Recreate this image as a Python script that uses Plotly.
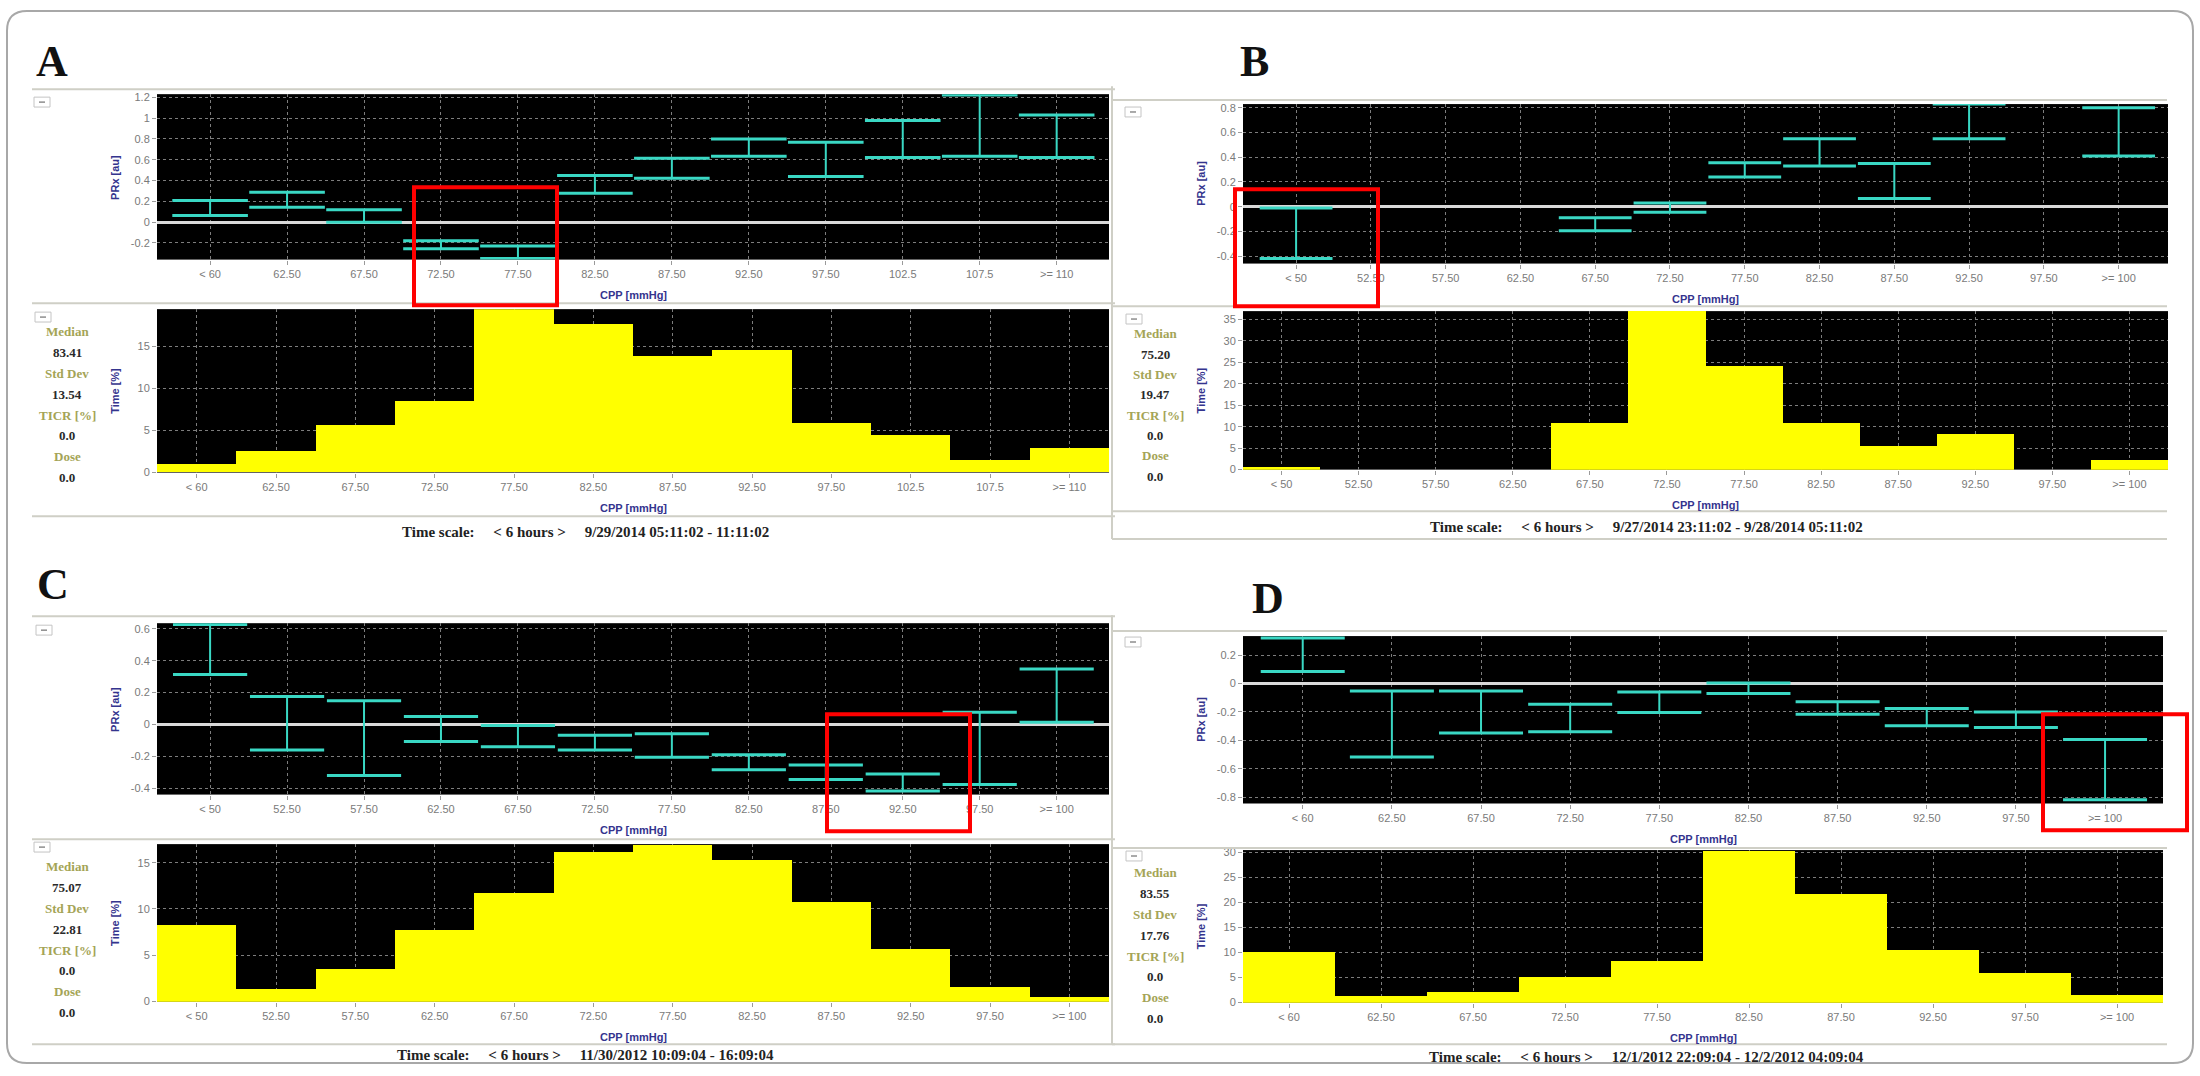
import plotly.graph_objects as go

W, H = 2200, 1076

# ------------------------------------------------------------------ data
A_cats = ["< 60", "62.50", "67.50", "72.50", "77.50", "82.50", "87.50", "92.50",
          "97.50", "102.5", "107.5", ">= 110"]
A_prx_hi = [0.208, 0.288, 0.12, -0.18, -0.23, 0.448, 0.614, 0.80, 0.768, 0.976, 1.222, 1.03]
A_prx_lo = [0.064, 0.144, 0.0, -0.256, -0.35, 0.278, 0.422, 0.634, 0.438, 0.621, 0.634, 0.621]
A_time = [1.0, 2.5, 5.6, 8.5, 19.6, 17.6, 13.8, 14.5, 5.9, 4.5, 1.5, 2.9]
A_prx_ticks = [-0.2, 0, 0.2, 0.4, 0.6, 0.8, 1.0, 1.2]
A_prx_ticktext = ["-0.2", "0", "0.2", "0.4", "0.6", "0.8", "1", "1.2"]
A_time_ticks = [0, 5, 10, 15]
A_stats = ["83.41", "13.54", "0.0", "0.0"]
A_period = "9/29/2014 05:11:02 - 11:11:02"

B_cats = ["< 50", "52.50", "57.50", "62.50", "67.50", "72.50", "77.50", "82.50",
          "87.50", "92.50", "97.50", ">= 100"]
B_prx_hi = [-0.01, None, None, None, -0.09, 0.03, 0.355, 0.55, 0.35, 0.83, None, 0.80]
B_prx_lo = [-0.42, None, None, None, -0.195, -0.045, 0.24, 0.33, 0.067, 0.55, None, 0.41]
B_time = [0.5, 0, 0, 0, 10.8, 36.8, 24.0, 10.8, 5.4, 8.3, 0, 2.2]
B_prx_ticks = [-0.4, -0.2, 0, 0.2, 0.4, 0.6, 0.8]
B_prx_ticktext = ["-0.4", "-0.2", "0", "0.2", "0.4", "0.6", "0.8"]
B_time_ticks = [0, 5, 10, 15, 20, 25, 30, 35]
B_stats = ["75.20", "19.47", "0.0", "0.0"]
B_period = "9/27/2014 23:11:02 - 9/28/2014 05:11:02"

C_cats = ["< 50", "52.50", "57.50", "62.50", "67.50", "72.50", "77.50", "82.50",
          "87.50", "92.50", "97.50", ">= 100"]
C_prx_hi = [0.627, 0.175, 0.148, 0.05, -0.006, -0.068, -0.058, -0.19, -0.254, -0.311, 0.076, 0.348]
C_prx_lo = [0.313, -0.16, -0.32, -0.107, -0.14, -0.16, -0.206, -0.285, -0.346, -0.418, -0.377, 0.014]
C_time = [8.25, 1.36, 3.5, 7.7, 11.7, 16.1, 16.9, 15.25, 10.7, 5.7, 1.6, 0.5]
C_prx_ticks = [-0.4, -0.2, 0, 0.2, 0.4, 0.6]
C_prx_ticktext = ["-0.4", "-0.2", "0", "0.2", "0.4", "0.6"]
C_time_ticks = [0, 5, 10, 15]
C_stats = ["75.07", "22.81", "0.0", "0.0"]
C_period = "11/30/2012 10:09:04 - 16:09:04"

D_cats = ["< 60", "62.50", "67.50", "72.50", "77.50", "82.50", "87.50", "92.50",
          "97.50", ">= 100"]
D_prx_hi = [0.322, -0.053, -0.053, -0.146, -0.06, 0.005, -0.128, -0.176, -0.2, -0.394]
D_prx_lo = [0.086, -0.517, -0.348, -0.339, -0.204, -0.07, -0.216, -0.297, -0.309, -0.819]
D_time = [10.1, 1.3, 2.2, 5.1, 8.4, 30.3, 21.8, 10.5, 5.9, 1.6]
D_prx_ticks = [-0.8, -0.6, -0.4, -0.2, 0, 0.2]
D_prx_ticktext = ["-0.8", "-0.6", "-0.4", "-0.2", "0", "0.2"]
D_time_ticks = [0, 5, 10, 15, 20, 25, 30]
D_stats = ["83.55", "17.76", "0.0", "0.0"]
D_period = "12/1/2012 22:09:04 - 12/2/2012 04:09:04"

stat_labels = ["Median", "Std Dev", "TICR [%]", "Dose"]
panel_letters = ["A", "B", "C", "D"]

# ------------------------------------------------------------------ layout geometry
TEAL = "#3ad8c4"
NAVY = "#34348e"
TICKC = "#7a7a7a"
OLIVE = "#a4a456"
SEP = "#cfcfc6"


def px(x):
    return x / W


def py(y):
    return 1 - y / H


panels = [
    dict(cats=A_cats, hi=A_prx_hi, lo=A_prx_lo, time=A_time, pt=A_prx_ticks, ptt=A_prx_ticktext,
         tt=A_time_ticks, stats=A_stats, period=A_period,
         top=(157, 1109, 91, 258), bot=(157, 1109, 308, 473),
         xr=(-0.69, 11.68), yr=(-0.36, 1.23), yrb=(0, 19.4), cap=54,
         letter=(52, 58), sx=67, sy0=331, sdy=21, ts=(585, 533),
         seps=[(32, 1115, 86), (32, 1115, 302), (32, 1115, 517)], vsep=None,
         boxes=[(34, 94), (35, 311)]),
    dict(cats=B_cats, hi=B_prx_hi, lo=B_prx_lo, time=B_time, pt=B_prx_ticks, ptt=B_prx_ticktext,
         tt=B_time_ticks, stats=B_stats, period=B_period,
         top=(1243, 2168, 101, 262), bot=(1243, 2168, 310, 470),
         xr=(-0.71, 11.66), yr=(-0.46, 0.83), yrb=(0, 36.9), cap=52,
         letter=(1254, 58), sx=1155, sy0=333, sdy=20.5, ts=(1646, 528),
         seps=[(1112, 2167, 97), (1112, 2167, 305), (1112, 2167, 512), (1112, 2167, 540)],
         vsep=(1112, 83, 540), boxes=[(1125, 104), (1126, 313)]),
    dict(cats=C_cats, hi=C_prx_hi, lo=C_prx_lo, time=C_time, pt=C_prx_ticks, ptt=C_prx_ticktext,
         tt=C_time_ticks, stats=C_stats, period=C_period,
         top=(157, 1109, 625, 798), bot=(157, 1109, 848, 1007),
         xr=(-0.69, 11.68), yr=(-0.44, 0.635), yrb=(0, 17.0), cap=53,
         letter=(53, 586), sx=67, sy0=871, sdy=21, ts=(585, 1061),
         seps=[(32, 1115, 618), (32, 1115, 843), (32, 1115, 1050)], vsep=None,
         boxes=[(36, 627), (34, 846)]),
    dict(cats=D_cats, hi=D_prx_hi, lo=D_prx_lo, time=D_time, pt=D_prx_ticks, ptt=D_prx_ticktext,
         tt=D_time_ticks, stats=D_stats, period=D_period,
         top=(1243, 2163, 638, 807), bot=(1243, 2163, 854, 1008),
         xr=(-0.67, 9.65), yr=(-0.845, 0.335), yrb=(0, 30.5), cap=60,
         letter=(1268, 600), sx=1155, sy0=877, sdy=21, ts=(1646, 1063),
         seps=[(1112, 2167, 633), (1112, 2167, 852), (1112, 2167, 1050)],
         vsep=(1112, 617, 1050), boxes=[(1125, 639), (1126, 855)]),
]

red_boxes = [(414, 185, 557, 304), (1235, 187, 1378, 305), (827, 717, 970, 835), (2043, 717, 2187, 834)]

fig = go.Figure()
layout = dict(width=W, height=H, margin=dict(l=0, r=0, t=0, b=0),
              paper_bgcolor="white", plot_bgcolor="black", bargap=0,
              showlegend=False, font=dict(family="Liberation Sans", size=11, color=TICKC))
annotations = []
shapes = []

tickfont = dict(family="Liberation Sans", size=11, color=TICKC)


def ann(text, x, y, font, **kw):
    d = dict(text=text, x=px(x), y=py(y), xref="paper", yref="paper", showarrow=False,
             xanchor="center", yanchor="middle", font=font)
    d.update(kw)
    annotations.append(d)


def axis_common():
    return dict(showgrid=True, gridcolor="#7d7d7d", griddash="dot", gridwidth=1,
                ticks="outside", ticklen=4, tickcolor="#9a9a9a", tickfont=tickfont,
                showline=False, zeroline=False, fixedrange=True)


for pi, p in enumerate(panels):
    kt = 2 * pi + 1
    kb = 2 * pi + 2
    n = len(p["cats"])
    idx = list(range(n))
    xa_t = "x" if kt == 1 else f"x{kt}"
    ya_t = "y" if kt == 1 else f"y{kt}"
    xa_b = f"x{kb}"
    ya_b = f"y{kb}"

    # --- PRx error bars: stems + caps
    xs, ys = [], []
    for i, (lo, hi) in enumerate(zip(p["lo"], p["hi"])):
        if lo is None or hi is None:
            continue
        xs += [i, i, None]
        ys += [lo, hi, None]
    fig.add_trace(go.Scatter(x=xs, y=ys, mode="lines", line=dict(color=TEAL, width=2),
                             xaxis=xa_t, yaxis=ya_t, hoverinfo="skip"))
    for vals in (p["hi"], p["lo"]):
        fig.add_trace(go.Scatter(x=idx, y=vals, mode="markers",
                                 marker=dict(symbol="line-ew", size=p["cap"],
                                             line=dict(color=TEAL, width=3)),
                                 xaxis=xa_t, yaxis=ya_t, hoverinfo="skip"))

    # --- time histogram
    fig.add_trace(go.Bar(x=idx, y=p["time"], width=1, marker=dict(color="#ffff00", line=dict(width=0)),
                         xaxis=xa_b, yaxis=ya_b, hoverinfo="skip"))

    x0, x1, y0, y1 = p["top"]
    bx0, bx1, by0, by1 = p["bot"]
    xname_t = "xaxis" if kt == 1 else f"xaxis{kt}"
    yname_t = "yaxis" if kt == 1 else f"yaxis{kt}"

    ax = axis_common()
    ax.update(domain=[px(x0), px(x1)], anchor=ya_t, range=list(p["xr"]),
              tickmode="array", tickvals=idx, ticktext=p["cats"])
    layout[xname_t] = ax
    ay = axis_common()
    ay.update(domain=[py(y1), py(y0)], anchor=xa_t, range=list(p["yr"]),
              tickmode="array", tickvals=p["pt"], ticktext=p["ptt"],
              zeroline=True, zerolinecolor="#d9d9d9", zerolinewidth=3)
    layout[yname_t] = ay

    bxa = axis_common()
    bxa.update(domain=[px(bx0), px(bx1)], anchor=ya_b, range=[-0.5, n - 0.5],
               tickmode="array", tickvals=idx, ticktext=p["cats"])
    layout[f"xaxis{kb}"] = bxa
    bya = axis_common()
    bya.update(domain=[py(by1), py(by0)], anchor=xa_b, range=list(p["yrb"]),
               tickmode="array", tickvals=p["tt"], layer="above traces")
    layout[f"yaxis{kb}"] = bya

    # --- axis titles
    title_font = dict(family="Liberation Sans", size=11, color=NAVY, weight="bold")
    ann("CPP [mmHg]", (x0 + x1) / 2, y1 + 36, title_font)
    ann("CPP [mmHg]", (bx0 + bx1) / 2, by1 + 36, title_font)
    ann("PRx [au]", x0 - 42, (y0 + y1) / 2, title_font, textangle=-90)
    ann("Time [%]", bx0 - 42, (by0 + by1) / 2, title_font, textangle=-90)

    # --- panel letter
    ann(panel_letters[pi], p["letter"][0], p["letter"][1],
        dict(family="Liberation Serif", size=44, color="#111", weight="bold"))

    # --- statistics column
    for j, (lab, val) in enumerate(zip(stat_labels, p["stats"])):
        yl = p["sy0"] + 2 * j * p["sdy"]
        yv = yl + p["sdy"]
        ann(lab, p["sx"], yl, dict(family="Liberation Serif", size=13, color=OLIVE, weight="bold"))
        ann(val, p["sx"], yv, dict(family="Liberation Serif", size=13, color="#2a2a2a", weight="bold"))

    # --- time scale line
    nb = "\u00a0"
    ts_text = "Time scale:" + nb * 5 + "&lt; 6 hours &gt;" + nb * 5 + p["period"]
    ann(ts_text, p["ts"][0], p["ts"][1], dict(family="Liberation Serif", size=15, color="#222", weight="bold"))

    # --- separators
    for (sx0, sx1, sy) in p["seps"]:
        shapes.append(dict(type="line", xref="paper", yref="paper", x0=px(sx0), x1=px(sx1),
                           y0=py(sy), y1=py(sy), line=dict(color=SEP, width=2)))
    if p["vsep"]:
        vx, vy0, vy1 = p["vsep"]
        shapes.append(dict(type="line", xref="paper", yref="paper", x0=px(vx), x1=px(vx),
                           y0=py(vy0), y1=py(vy1), line=dict(color=SEP, width=2)))
    # --- small collapse buttons
    for (bxx, byy) in p["boxes"]:
        shapes.append(dict(type="rect", xref="paper", yref="paper", x0=px(bxx), x1=px(bxx + 16),
                           y0=py(byy), y1=py(byy + 10), line=dict(color="#c4c4c4", width=1),
                           fillcolor="white"))
        shapes.append(dict(type="line", xref="paper", yref="paper", x0=px(bxx + 5), x1=px(bxx + 11),
                           y0=py(byy + 5), y1=py(byy + 5), line=dict(color="#555", width=1)))

# --- red highlight boxes
for (rx0, ry0, rx1, ry1) in red_boxes:
    shapes.append(dict(type="rect", xref="paper", yref="paper", x0=px(rx0), x1=px(rx1),
                       y0=py(ry1), y1=py(ry0), line=dict(color="#ff0000", width=4)))

# --- outer rounded border
bx0, by0, bx1, by1, r = 7, 7, 2193, 1069, 20
path = (f"M {px(bx0 + r)},{py(by0)} L {px(bx1 - r)},{py(by0)} Q {px(bx1)},{py(by0)} {px(bx1)},{py(by0 + r)} "
        f"L {px(bx1)},{py(by1 - r)} Q {px(bx1)},{py(by1)} {px(bx1 - r)},{py(by1)} "
        f"L {px(bx0 + r)},{py(by1)} Q {px(bx0)},{py(by1)} {px(bx0)},{py(by1 - r)} "
        f"L {px(bx0)},{py(by0 + r)} Q {px(bx0)},{py(by0)} {px(bx0 + r)},{py(by0)} Z")
shapes.append(dict(type="path", xref="paper", yref="paper", path=path,
                   line=dict(color="#a8a8a8", width=2)))

layout["annotations"] = annotations
layout["shapes"] = shapes
fig.update_layout(**layout)
fig.write_html("out.html")
